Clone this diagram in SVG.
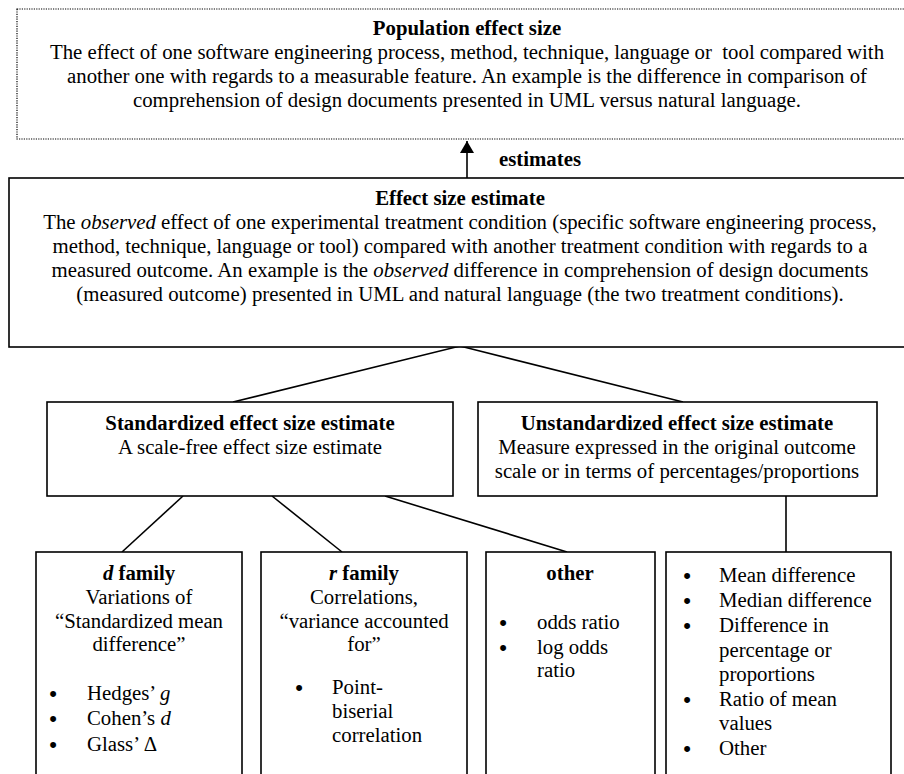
<svg xmlns="http://www.w3.org/2000/svg" width="904" height="774" viewBox="0 0 904 774">
<style>
text{font-family:"Liberation Serif","Times New Roman",serif;font-size:20.8px;fill:#000}
.c{text-anchor:middle}
.b{font-weight:bold}
.i{font-style:italic}
.bl{font-family:"Liberation Sans",Arial,sans-serif;font-size:22px;text-anchor:middle}
.box{fill:#fff;stroke:#000;stroke-width:1.6}
.dot{fill:#fff;stroke:#000;stroke-width:1.2;stroke-dasharray:1.2,1.2}
.con{stroke:#000;stroke-width:1.6;fill:none}
</style>
<defs>
<marker id="ah" viewBox="0 0 12 14" refX="12" refY="7" markerWidth="12" markerHeight="14" markerUnits="userSpaceOnUse" orient="auto">
<path d="M0,0 L12,7 L0,14 Z" fill="#000"/>
</marker>
</defs>
<rect width="904" height="774" fill="#fff"/>

<g id="connectors">
<line class="con" x1="467" y1="178" x2="467" y2="141" marker-end="url(#ah)"/>
<polyline class="con" points="233,402 460,346 683,402"/>
<line class="con" x1="183" y1="496" x2="122" y2="552"/>
<line class="con" x1="272" y1="496" x2="342" y2="552"/>
<line class="con" x1="385" y1="496" x2="567" y2="552"/>
<line class="con" x1="786" y1="496" x2="786" y2="552"/>
<text class="b" x="499" y="166">estimates</text>
</g>

<g id="population">
<rect class="dot" x="17" y="9" width="905" height="130"/>
<text class="c b" x="467" y="35">Population effect size</text>
<text class="c" x="467" y="59">The effect of one software engineering process, method, technique, language or&#160; tool compared with</text>
<text class="c" x="467" y="83">another one with regards to a measurable feature. An example is the difference in comparison of</text>
<text class="c" x="467" y="107">comprehension of design documents presented in UML versus natural language.</text>
</g>

<g id="estimate">
<rect class="box" x="9" y="178" width="905" height="169" stroke-width="2"/>
<text class="c b" x="460" y="205">Effect size estimate</text>
<text class="c" x="460" y="229">The <tspan class="i">observed</tspan> effect of one experimental treatment condition (specific software engineering process,</text>
<text class="c" x="460" y="253">method, technique, language or tool) compared with another treatment condition with regards to a</text>
<text class="c" x="460" y="277">measured outcome. An example is the <tspan class="i">observed</tspan> difference in comprehension of design documents</text>
<text class="c" x="460" y="301">(measured outcome) presented in UML and natural language (the two treatment conditions).</text>
</g>

<g id="standardized">
<rect class="box" x="47" y="402" width="406" height="94"/>
<text class="c b" x="250" y="430">Standardized effect size estimate</text>
<text class="c" x="250" y="454">A scale-free effect size estimate</text>
</g>

<g id="unstandardized">
<rect class="box" x="478" y="402" width="399" height="94"/>
<text class="c b" x="677" y="430">Unstandardized effect size estimate</text>
<text class="c" x="677" y="454">Measure expressed in the original outcome</text>
<text class="c" x="677" y="478">scale or in terms of percentages/proportions</text>
</g>

<g id="dfamily">
<rect class="box" x="36" y="552" width="206" height="240"/>
<text class="c b" x="139" y="580"><tspan class="i">d</tspan> family</text>
<text class="c" x="139" y="604">Variations of</text>
<text class="c" x="139" y="628">“Standardized mean</text>
<text class="c" x="139" y="651">difference”</text>
<text class="bl" x="53" y="701">•</text><text x="87" y="700">Hedges’ <tspan class="i">g</tspan></text>
<text class="bl" x="53" y="726">•</text><text x="87" y="725">Cohen’s <tspan class="i">d</tspan></text>
<text class="bl" x="53" y="752">•</text><text x="87" y="751">Glass’ Δ</text>
</g>

<g id="rfamily">
<rect class="box" x="261" y="552" width="206" height="240"/>
<text class="c b" x="364" y="580"><tspan class="i">r</tspan> family</text>
<text class="c" x="364" y="604">Correlations,</text>
<text class="c" x="364" y="628">“variance accounted</text>
<text class="c" x="364" y="651">for”</text>
<text class="bl" x="299" y="695">•</text><text x="332" y="694">Point-</text>
<text x="332" y="718">biserial</text>
<text x="332" y="742">correlation</text>
</g>

<g id="other">
<rect class="box" x="486" y="552" width="169" height="240"/>
<text class="c b" x="570" y="580">other</text>
<text class="bl" x="503" y="630">•</text><text x="537" y="629">odds ratio</text>
<text class="bl" x="503" y="655">•</text><text x="537" y="654">log odds</text>
<text x="537" y="677">ratio</text>
</g>

<g id="unstd-list">
<rect class="box" x="666" y="552" width="225" height="240"/>
<text class="bl" x="687" y="583">•</text><text x="719" y="582">Mean difference</text>
<text class="bl" x="687" y="608">•</text><text x="719" y="607">Median difference</text>
<text class="bl" x="687" y="633">•</text><text x="719" y="632">Difference in</text>
<text x="719" y="657">percentage or</text>
<text x="719" y="681">proportions</text>
<text class="bl" x="687" y="707">•</text><text x="719" y="706">Ratio of mean</text>
<text x="719" y="730">values</text>
<text class="bl" x="687" y="756">•</text><text x="719" y="755">Other</text>
</g>
</svg>
